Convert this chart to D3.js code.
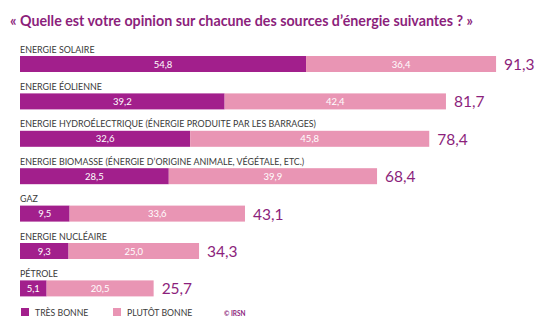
<!DOCTYPE html>
<html>
<head>
<meta charset="utf-8">
<script src="https://cdn.jsdelivr.net/npm/d3@7"></script>
<style>
    body { margin: 0; background: #fff; }
    svg text { font-family: Lato, "Open Sans", sans-serif; }
</style>
</head>
<body>
<div id="chart"></div>
<script>
(function() {
    let categories = [
        'ENERGIE SOLAIRE',
        'ENERGIE ÉOLIENNE',
        'ENERGIE HYDROÉLECTRIQUE (ÉNERGIE PRODUITE PAR LES BARRAGES)',
        'ENERGIE BIOMASSE (ÉNERGIE D’ORIGINE ANIMALE, VÉGÉTALE, ETC.)',
        'GAZ',
        'ENERGIE NUCLÉAIRE',
        'PÉTROLE'
    ];
    let tresBonne = [54.8, 39.2, 32.6, 28.5, 9.5, 9.3, 5.1];
    let plutotBonne = [36.4, 42.4, 45.8, 39.9, 33.6, 25.0, 20.5];
    let totals = [91.3, 81.7, 78.4, 68.4, 43.1, 34.3, 25.7];
    let seriesNames = ['TRÈS BONNE', 'PLUTÔT BONNE'];

    let purple = '#a21f8c';
    let pink = '#e995b4';
    let fmt = v => v.toFixed(1).replace('.', ',');

    let svg = d3.select('#chart')
        .append('svg')
        .attr('width', 560)
        .attr('height', 328);

    svg.append('text')
        .attr('x', 10)
        .attr('y', 26)
        .attr('fill', '#8c1f7c')
        .attr('font-size', 15.5)
        .attr('font-weight', 700)
        .attr('textLength', 463)
        .attr('lengthAdjust', 'spacingAndGlyphs')
        .text('« Quelle est votre opinion sur chacune des sources d’énergie suivantes ? »');

    let x = d3.scaleLinear()
        .domain([0, 100])
        .range([20, 542]);

    let y = d3.scaleBand()
        .domain(categories)
        .range([44, 44 + 7 * 37.4]);

    let rows = categories.map((c, i) => ({
        name: c,
        a: tresBonne[i],
        b: plutotBonne[i],
        total: totals[i]
    }));

    let row = svg.selectAll('.row')
        .data(rows)
        .enter()
        .append('g')
        .attr('class', 'row')
        .attr('transform', d => 'translate(0,' + y(d.name) + ')');

    row.append('text')
        .attr('x', 20)
        .attr('y', 8.5)
        .attr('fill', '#3a3a3a')
        .attr('font-size', 8.9)
        .text(d => d.name);

    row.append('rect')
        .attr('x', x(0))
        .attr('y', 12)
        .attr('width', d => x(d.a) - x(0))
        .attr('height', 16)
        .attr('fill', purple);

    row.append('rect')
        .attr('x', d => x(d.a))
        .attr('y', 12)
        .attr('width', d => x(d.a + d.b) - x(d.a))
        .attr('height', 16)
        .attr('fill', pink);

    row.append('text')
        .attr('x', d => (x(0) + x(d.a)) / 2)
        .attr('y', 23.5)
        .attr('text-anchor', 'middle')
        .attr('fill', '#fff')
        .attr('font-size', 9.5)
        .text(d => fmt(d.a));

    row.append('text')
        .attr('x', d => (x(d.a) + x(d.a + d.b)) / 2)
        .attr('y', 23.5)
        .attr('text-anchor', 'middle')
        .attr('fill', '#fff')
        .attr('font-size', 9.5)
        .text(d => fmt(d.b));

    row.append('text')
        .attr('x', d => x(d.a + d.b) + 8)
        .attr('y', 26)
        .attr('fill', '#8c1f7c')
        .attr('font-size', 15.5)
        .text(d => fmt(d.total));

    let legend = svg.selectAll('.legend')
        .data(seriesNames)
        .enter()
        .append('g')
        .attr('class', 'legend')
        .attr('transform', (d, i) => 'translate(' + [21, 113][i] + ',308)');

    legend.append('rect')
        .attr('width', 8)
        .attr('height', 8)
        .attr('fill', (d, i) => [purple, pink][i]);

    legend.append('text')
        .attr('x', 14)
        .attr('y', 8)
        .attr('fill', '#3a3a3a')
        .attr('font-size', 8.7)
        .text(d => d);

    svg.append('text')
        .attr('x', 224)
        .attr('y', 315.5)
        .attr('fill', '#8c1f7c')
        .attr('font-size', 6.5)
        .attr('font-weight', 700)
        .text('© IRSN');
})();
</script>
</body>
</html>
